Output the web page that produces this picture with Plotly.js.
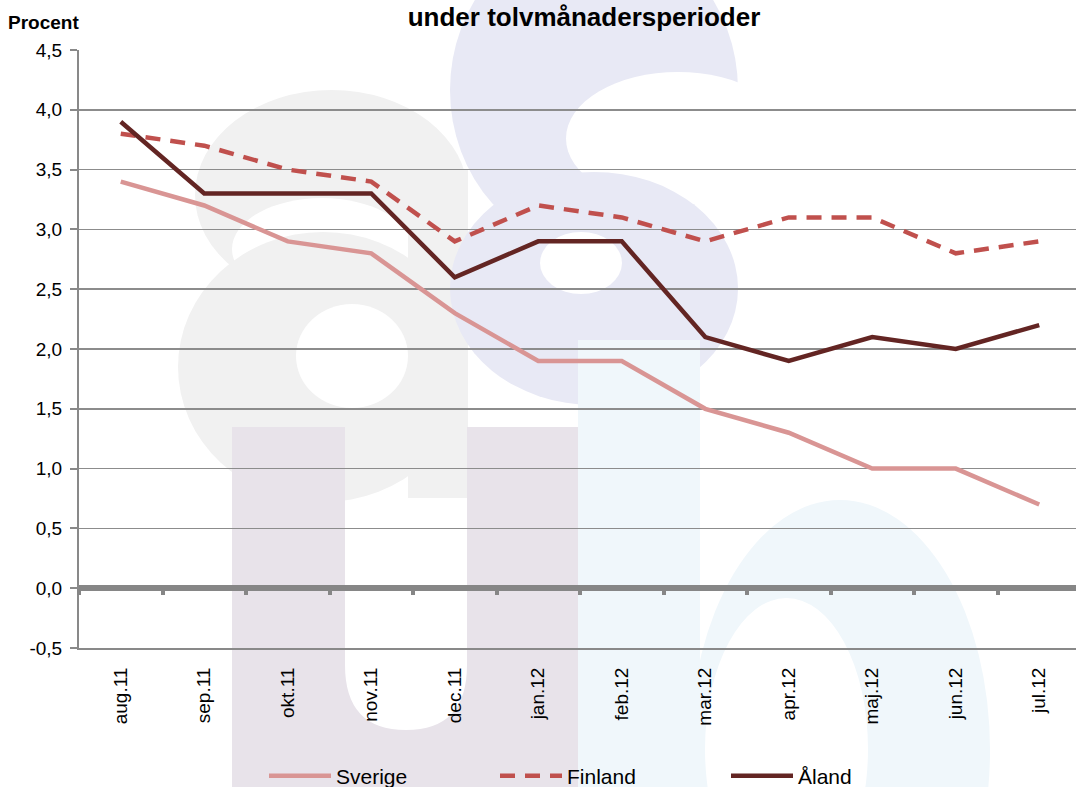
<!DOCTYPE html>
<html>
<head>
<meta charset="utf-8">
<script src="https://cdn.plot.ly/plotly-3.0.1.min.js"></script>
<style>
html,body{margin:0;padding:0;overflow:hidden;background:#fff;}
#chart{width:1076px;height:787px;}
</style>
</head>
<body>
<div id="chart"></div>
<script>
// ---- data ----
const months = ["aug.11","sep.11","okt.11","nov.11","dec.11","jan.12","feb.12","mar.12","apr.12","maj.12","jun.12","jul.12"];
const sverige = [3.4, 3.2, 2.9, 2.8, 2.3, 1.9, 1.9, 1.5, 1.3, 1.0, 1.0, 0.7];
const finland = [3.8, 3.7, 3.5, 3.4, 2.9, 3.2, 3.1, 2.9, 3.1, 3.1, 2.8, 2.9];
const aland   = [3.9, 3.3, 3.3, 3.3, 2.6, 2.9, 2.9, 2.1, 1.9, 2.1, 2.0, 2.2];
const seriesNames = ["Sverige", "Finland", "Åland"];
const yTickVals = [-0.5, 0, 0.5, 1, 1.5, 2, 2.5, 3, 3.5, 4, 4.5];
const titleText = "under tolvmånadersperioder";
const yLabel = "Procent";

// tick labels with decimal comma and a plain hyphen for negatives
const yTickText = yTickVals.map(v => v.toFixed(1).replace(".", ","));

// ---- layout helpers (pixel -> paper) ----
const W = 1076, H = 787, ML = 79, MR = 0, MT = 50, MB = 139;
const PW = W - ML - MR, PH = H - MT - MB;
const px = x => (x - ML) / PW;
const py = y => (H - MB - y) / PH;
const FONT = "Liberation Sans, Arial, Helvetica, sans-serif";

function ell(x0, y0, x1, y1, color) {
  return {type: "circle", xref: "paper", yref: "paper", layer: "below",
    x0: px(x0), x1: px(x1), y0: py(y1), y1: py(y0),
    fillcolor: color, line: {width: 0}};
}
function rect(x0, y0, x1, y1, color) {
  return {type: "rect", xref: "paper", yref: "paper", layer: "below",
    x0: px(x0), x1: px(x1), y0: py(y1), y1: py(y0),
    fillcolor: color, line: {width: 0}};
}
function path(cmds, color) {
  let d = "";
  cmds.forEach(c => {
    d += c[0];
    for (let i = 1; i < c.length; i += 2) {
      d += px(c[i]).toFixed(5) + "," + py(c[i + 1]).toFixed(5) + " ";
    }
  });
  return {type: "path", xref: "paper", yref: "paper", layer: "below",
    path: d, fillcolor: color, line: {width: 0}};
}

const GRAY = "#f1f1f1", LAV = "#e8e9f5", PUR = "#e8e3ea", LBLUE = "#f0f7fb", WHITE = "#ffffff";
const watermark = [
  // "a" (gray)
  ell(195, 90, 468, 300, GRAY),
  ell(232, 198, 412, 300, WHITE),
  ell(178, 232, 468, 502, GRAY),
  rect(408, 170, 468, 498, GRAY),
  ell(296, 304, 408, 408, WHITE),
  // "s" (lavender)
  ell(450, -70, 738, 250, LAV),
  ell(566, 72, 790, 205, WHITE),
  ell(450, 172, 738, 405, LAV),
  ell(540, 232, 622, 294, WHITE),
  // "u" (purple grey)
  path([["M", 232, 427], ["L", 232, 800], ["L", 605, 800], ["L", 605, 427], ["L", 467, 427],
        ["L", 467, 665], ["Q", 467, 730, 406, 730], ["Q", 345, 730, 345, 665], ["L", 345, 427], ["Z"]], PUR),
  // "b" (light blue)
  rect(578, 340, 700, 800, LBLUE),
  ell(690, 500, 990, 1000, LBLUE),
  ell(705, 598, 868, 900, WHITE)
];

const cats = months;
const boundaries = cats.map((_, i) => i - 0.5);

const traces = [
  {x: cats, y: sverige, name: seriesNames[0], type: "scatter", mode: "lines",
   line: {color: "#d99594", width: 4.5}},
  {x: cats, y: finland, name: seriesNames[1], type: "scatter", mode: "lines",
   line: {color: "#c0504d", width: 4.5, dash: "15px,10px"}},
  {x: cats, y: aland, name: seriesNames[2], type: "scatter", mode: "lines",
   line: {color: "#632523", width: 4.5}},
  {x: [], y: [], xaxis: "x2", yaxis: "y", showlegend: false, hoverinfo: "skip", type: "scatter"}
];

// the reference cuts the plot area at the right edge of the window
const xMax = -0.5 + cats.length * PW / 1002;

const layout = {
  width: W, height: H,
  margin: {l: ML, r: MR, t: MT, b: MB, pad: 0, autoexpand: false},
  paper_bgcolor: "#ffffff",
  plot_bgcolor: "rgba(0,0,0,0)",
  separators: ", ",
  font: {family: FONT, size: 19, color: "#000"},
  showlegend: true,
  title: {text: "<b>" + titleText + "</b>", font: {family: FONT, size: 26, color: "#000"},
          xref: "paper", x: px(584), xanchor: "center",
          yref: "container", y: 1 - 17 / H, yanchor: "middle"},
  xaxis: {
    type: "category", range: [-0.5, xMax],
    showgrid: false, zeroline: false,
    showline: true, linecolor: "#898989", linewidth: 2,
    ticks: "", tickangle: -90, ticklabelstandoff: 10,
    tickfont: {family: FONT, size: 19, color: "#000"}
  },
  xaxis2: {
    type: "linear", overlaying: "x", anchor: "free", position: py(588),
    range: [-0.5, xMax], showgrid: false, zeroline: false, showline: false,
    showticklabels: false, ticks: "outside", ticklen: 6, tickwidth: 4, tickcolor: "#868686",
    tickmode: "array", tickvals: boundaries
  },
  yaxis: {
    range: [-0.5, 4.5], tickmode: "array", tickvals: yTickVals, ticktext: yTickText,
    showgrid: true, gridcolor: "#8c8c8c", gridwidth: 1.5,
    zeroline: true, zerolinecolor: "#868686", zerolinewidth: 6,
    showline: true, linecolor: "#898989", linewidth: 2,
    ticks: "outside", ticklen: 7, tickwidth: 2, tickcolor: "#898989",
    ticklabelstandoff: 4,
    tickfont: {family: FONT, size: 19, color: "#000"}
  },
  legend: {orientation: "h", x: px(264), xanchor: "left", y: py(776), yanchor: "middle",
           bgcolor: "rgba(0,0,0,0)", font: {family: FONT, size: 21, color: "#000"},
           itemwidth: 62, entrywidth: 154, entrywidthmode: "pixels", traceorder: "normal"},
  annotations: [
    {text: "<b>" + yLabel + "</b>", xref: "paper", yref: "paper", x: px(6), y: py(23),
     xanchor: "left", yanchor: "middle", showarrow: false,
     font: {family: FONT, size: 19, color: "#000"}}
  ],
  shapes: watermark
};

Plotly.newPlot("chart", traces, layout, {displayModeBar: false, staticPlot: true});
</script>
</body>
</html>
